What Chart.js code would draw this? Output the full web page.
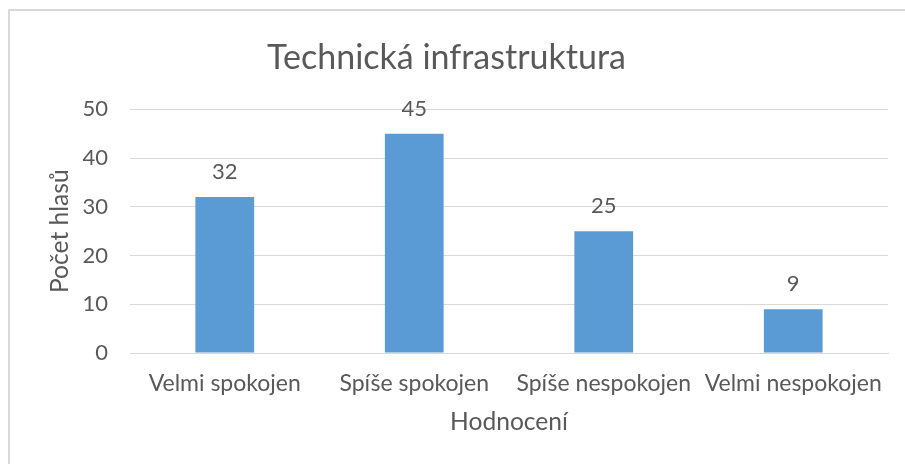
<!DOCTYPE html>
<html>
<head>
<meta charset="utf-8">
<script src="https://cdn.jsdelivr.net/npm/chart.js@4.4.1/dist/chart.umd.min.js"></script>
<style>
  html, body { margin: 0; padding: 0; background: #fff; }
  #wrap { position: relative; width: 905px; height: 464px; overflow: hidden; }
  #frame { position: absolute; left: 8px; top: 9px; right: -10px; bottom: -10px;
           border-left: 2px solid #d9d9d9; border-top: 2px solid #d9d9d9; }
  canvas { position: absolute; left: 0; top: 0; }
</style>
</head>
<body>
<div id="wrap">
  <div id="frame"></div>
  <canvas id="c" width="905" height="464"></canvas>
</div>
<script>
const categories = ["Velmi spokojen", "Spíše spokojen", "Spíše nespokojen", "Velmi nespokojen"];
const votes = [32, 45, 25, 9];
const yTicks = [0, 10, 20, 30, 40, 50];
const chartTitle = "Technická infrastruktura";
const yTitle = "Počet hlasů";
const xTitle = "Hodnocení";

const FONT = "Lato, 'Open Sans', sans-serif";
const TEXT = "#595959";

const dataLabels = {
  id: "dataLabels",
  afterDatasetsDraw(chart) {
    const ctx = chart.ctx;
    ctx.save();
    ctx.font = "22px " + FONT;
    ctx.fillStyle = TEXT;
    ctx.textAlign = "center";
    ctx.textBaseline = "middle";
    chart.getDatasetMeta(0).data.forEach((el, i) => {
      ctx.fillText(String(chart.data.datasets[0].data[i]), el.x, el.y - 25);
    });
    ctx.restore();
  }
};

new Chart(document.getElementById("c"), {
  type: "bar",
  data: {
    labels: categories,
    datasets: [{
      data: votes,
      backgroundColor: "#5B9BD5",
      borderWidth: 0,
      categoryPercentage: 1.0,
      barPercentage: 0.31
    }]
  },
  options: {
    responsive: false,
    animation: false,
    devicePixelRatio: 1,
    layout: { padding: { left: 5, right: 17, top: 0, bottom: 23 } },
    plugins: {
      legend: { display: false },
      tooltip: { enabled: false },
      title: {
        display: true,
        text: chartTitle,
        color: TEXT,
        font: { family: FONT, size: 34, weight: "normal" },
        padding: { top: 37.6, bottom: 30.9 }
      }
    },
    scales: {
      x: {
        afterFit(scale) { scale.height = 88; },
        grid: { display: false, drawTicks: false },
        border: { display: true, color: "#d9d9d9", width: 1 },
        ticks: { color: TEXT, font: { family: FONT, size: 23 }, padding: 17, maxRotation: 0, autoSkip: false },
        title: { display: true, text: xTitle, color: TEXT, font: { family: FONT, size: 24.6 }, padding: { top: 10, bottom: 4 } }
      },
      y: {
        min: 0, max: 50,
        afterFit(scale) { scale.width = 125; },
        afterBuildTicks(scale) { scale.ticks = yTicks.map(v => ({ value: v })); },
        grid: { color: "#d9d9d9", lineWidth: 1, drawTicks: false },
        border: { display: false },
        ticks: { color: TEXT, font: { family: FONT, size: 22 }, padding: 22 },
        title: { display: true, text: yTitle, color: TEXT, font: { family: FONT, size: 24.6 }, padding: { top: 40, bottom: 4 } }
      }
    }
  },
  plugins: [dataLabels]
});
</script>
</body>
</html>
